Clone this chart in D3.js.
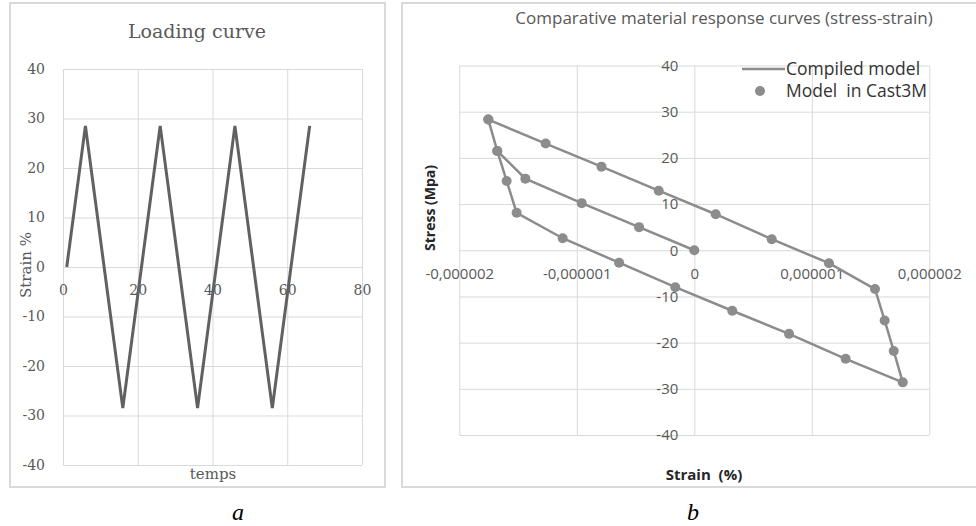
<html>
<head>
<script src="https://d3js.org/d3.v7.min.js"></script>
<style>
    body { margin: 0; background: #fff; }
    .grid line { stroke: #d9d9d9; stroke-width: 1; }
    .grid path { display: none; }
    .lab path { display: none; }
    .lab line { display: none; }
</style>
</head>
<body>
<svg id="fig" width="976" height="526"></svg>
<script>
    // panel a : loading curve
    const loadTime = [1, 6, 16, 26, 36, 46, 56, 66];
    const loadStrain = [0, 28.5, -28.5, 28.5, -28.5, 28.5, -28.5, 28.5];
    const ticksA_x = [0, 20, 40, 60, 80];
    const ticksA_y = [-40, -30, -20, -10, 0, 10, 20, 30, 40];

    // panel b : stress-strain (strain in %, stress in MPa), in loading order
    const strainB = [0, -4.7e-7, -9.58e-7, -1.438e-6, -1.677e-6, -1.753e-6,
        -1.265e-6, -7.9e-7, -3.03e-7, 1.82e-7, 6.59e-7, 1.146e-6, 1.538e-6,
        1.62e-6, 1.697e-6, 1.774e-6,
        1.288e-6, 8.06e-7, 3.23e-7, -1.62e-7, -6.4e-7, -1.12e-6, -1.512e-6,
        -1.597e-6, -1.677e-6, -1.753e-6];
    const stressB = [0, 5.0, 10.2, 15.5, 21.5, 28.3,
        23.1, 18.1, 12.9, 7.8, 2.4, -2.8, -8.4,
        -15.2, -21.8, -28.6,
        -23.5, -18.1, -13.1, -8.0, -2.7, 2.6, 8.1,
        15.0, 21.5, 28.3];
    const ticksB_x = [-2e-6, -1e-6, 0, 1e-6, 2e-6];
    const ticksB_y = [-40, -30, -20, -10, 0, 10, 20, 30, 40];

    const loc = d3.formatLocale({decimal: ",", thousands: " ", grouping: [3], currency: ["", ""], minus: "-"});
    const fmtInt = loc.format("d");
    const fmtStrain = d => d === 0 ? "0" : loc.format(".6f")(d);

    const svg = d3.select("#fig");

    // frames
    svg.append("rect").attr("x", 10).attr("y", 3).attr("width", 375).attr("height", 484)
        .attr("fill", "none").attr("stroke", "#d9d9d9").attr("stroke-width", 2);
    svg.append("rect").attr("x", 402).attr("y", 3).attr("width", 590).attr("height", 484)
        .attr("fill", "none").attr("stroke", "#d9d9d9").attr("stroke-width", 2);

    // ---------- panel a ----------
    const serif = "'DejaVu Serif', serif";
    const xA = d3.scaleLinear().domain([0, 80]).range([63, 362]);
    const yA = d3.scaleLinear().domain([-40, 40]).range([465, 69]);

    svg.append("g").attr("class", "grid")
        .attr("transform", "translate(63,0)")
        .call(d3.axisLeft(yA).tickValues(ticksA_y).tickSize(-(362 - 63)).tickFormat(""));
    svg.append("g").attr("class", "grid")
        .attr("transform", "translate(0,465)")
        .call(d3.axisBottom(xA).tickValues(ticksA_x).tickSize(-(465 - 69)).tickFormat(""));

    const yAxA = svg.append("g").attr("class", "lab")
        .attr("transform", "translate(63,0)")
        .call(d3.axisLeft(yA).tickValues(ticksA_y).tickSize(0).tickPadding(18).tickFormat(fmtInt));
    const xAxA = svg.append("g").attr("class", "lab")
        .attr("transform", "translate(0," + yA(0) + ")")
        .call(d3.axisBottom(xA).tickValues(ticksA_x).tickSize(0).tickFormat(fmtInt));
    xAxA.selectAll("text").attr("y", 23).attr("dy", "0.35em");
    svg.selectAll(".lab text").attr("font-family", serif).attr("font-size", 14).attr("fill", "#595959");

    const lineA = d3.line().x((d, i) => xA(loadTime[i])).y(d => yA(d));
    svg.append("path").datum(loadStrain)
        .attr("d", lineA)
        .attr("fill", "none").attr("stroke", "#616161").attr("stroke-width", 3)
        .attr("stroke-linejoin", "miter");

    svg.append("text").attr("x", 197).attr("y", 38).attr("text-anchor", "middle")
        .attr("font-family", serif).attr("font-size", 19).attr("fill", "#595959")
        .text("Loading curve");
    svg.append("text").attr("x", 213).attr("y", 479).attr("text-anchor", "middle")
        .attr("font-family", serif).attr("font-size", 15).attr("fill", "#595959")
        .text("temps");
    svg.append("text").attr("transform", "translate(31,265) rotate(-90)").attr("text-anchor", "middle")
        .attr("font-family", serif).attr("font-size", 15).attr("fill", "#595959")
        .text("Strain %");
    svg.append("text").attr("x", 238).attr("y", 520).attr("text-anchor", "middle")
        .attr("font-family", "'Liberation Serif', serif").attr("font-style", "italic").attr("font-size", 24)
        .attr("fill", "#000").text("a");

    // ---------- panel b ----------
    const sans = "'Open Sans', sans-serif";
    const xB = d3.scaleLinear().domain([-2e-6, 2e-6]).range([459.3, 929.3]);
    const yB = d3.scaleLinear().domain([-40, 40]).range([435, 65.5]);

    svg.append("g").attr("class", "grid")
        .attr("transform", "translate(459.3,0)")
        .call(d3.axisLeft(yB).tickValues(ticksB_y).tickSize(-(929.3 - 459.3)).tickFormat(""));
    svg.append("g").attr("class", "grid")
        .attr("transform", "translate(0,435)")
        .call(d3.axisBottom(xB).tickValues(ticksB_x).tickSize(-(435 - 65.5)).tickFormat(""));

    const yAxB = svg.append("g").attr("class", "lab labB")
        .attr("transform", "translate(" + xB(0) + ",0)")
        .call(d3.axisLeft(yB).tickValues(ticksB_y).tickSize(0).tickPadding(16).tickFormat(fmtInt));
    const xAxB = svg.append("g").attr("class", "lab labB")
        .attr("transform", "translate(0," + yB(0) + ")")
        .call(d3.axisBottom(xB).tickValues(ticksB_x).tickSize(0).tickFormat(fmtStrain));
    xAxB.selectAll("text").attr("y", 23).attr("dy", "0.35em");
    svg.selectAll(".labB text").attr("font-family", sans).attr("font-size", 15).attr("fill", "#595959");

    const grey = "#8c8c8c";
    const lineB = d3.line().x((d, i) => xB(strainB[i])).y(d => yB(d));
    svg.append("path").datum(stressB)
        .attr("d", lineB)
        .attr("fill", "none").attr("stroke", grey).attr("stroke-width", 2.5);
    svg.append("g").selectAll("circle")
        .data(stressB)
        .join("circle")
        .attr("cx", (d, i) => xB(strainB[i]))
        .attr("cy", d => yB(d))
        .attr("r", 5)
        .attr("fill", grey);

    svg.append("text").attr("x", 724).attr("y", 24).attr("text-anchor", "middle")
        .attr("font-family", sans).attr("font-size", 17).attr("fill", "#595959")
        .text("Comparative material response curves (stress-strain)");

    // legend
    svg.append("line").attr("x1", 742).attr("x2", 785).attr("y1", 69).attr("y2", 69)
        .attr("stroke", grey).attr("stroke-width", 2.5);
    svg.append("text").attr("x", 786).attr("y", 69).attr("dy", "0.35em")
        .attr("font-family", sans).attr("font-size", 17.5).attr("fill", "#333")
        .text("Compiled model");
    svg.append("circle").attr("cx", 760).attr("cy", 91).attr("r", 5).attr("fill", grey);
    svg.append("text").attr("x", 786).attr("y", 91).attr("dy", "0.35em")
        .attr("font-family", sans).attr("font-size", 17.5).attr("fill", "#333")
        .style("white-space", "pre")
        .text("Model  in Cast3M");

    svg.append("text").attr("transform", "translate(430,208) rotate(-90)").attr("text-anchor", "middle")
        .attr("dy", "0.35em")
        .attr("font-family", sans).attr("font-weight", "bold").attr("font-size", 14).attr("fill", "#262626")
        .text("Stress (Mpa)");
    svg.append("text").attr("x", 704).attr("y", 475).attr("text-anchor", "middle").attr("dy", "0.35em")
        .attr("font-family", sans).attr("font-weight", "bold").attr("font-size", 15).attr("fill", "#262626")
        .style("white-space", "pre")
        .text("Strain  (%)");
    svg.append("text").attr("x", 693).attr("y", 520).attr("text-anchor", "middle")
        .attr("font-family", "'Liberation Serif', serif").attr("font-style", "italic").attr("font-size", 24)
        .attr("fill", "#000").text("b");
</script>
</body>
</html>
